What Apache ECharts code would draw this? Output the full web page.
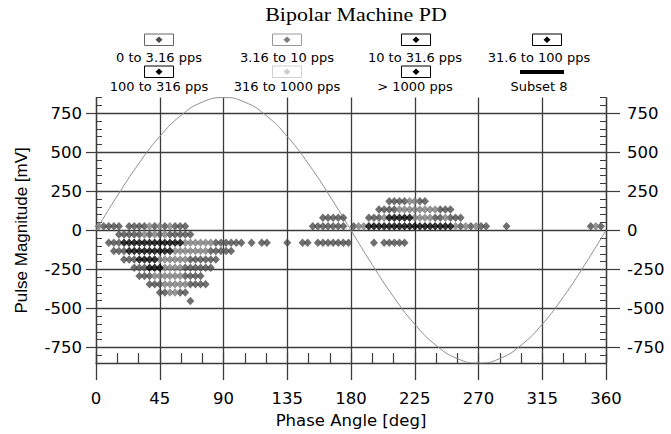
<!DOCTYPE html>
<html>
<head>
<meta charset="utf-8">
<script src="https://cdn.jsdelivr.net/npm/echarts@6/dist/echarts.min.js"></script>
<style>
html,body{margin:0;padding:0;background:#fff;}
#chart{width:671px;height:434px;}
</style>
</head>
<body>
<div id="chart"></div>
<script>
// Pulse-rate classes shown in the legend
const rateNames = ['0 to 3.16 pps', '3.16 to 10 pps', '10 to 31.6 pps', '31.6 to 100 pps',
                   '100 to 316 pps', '316 to 1000 pps', '> 1000 pps'];
const rateColors = ['#4b4b4b', '#7c7c7c', '#000000', '#000000', '#000000', '#cfcfcf', '#000000'];
const boxColors  = ['#666666', '#9a9a9a', '#000000', '#000000', '#000000', '#d0d0d0', '#000000'];
const lineName = 'Subset 8';
const chartTitle = 'Bipolar Machine PD';

const phaseTicks = [0, 45, 90, 135, 180, 225, 270, 315, 360];
const magnitudeTicks = [-750, -500, -250, 0, 250, 500, 750];

// [phase deg, magnitude mV] for each rate class
const rate0to3 = [
  [5.4,27],[9,27],[12.6,27],[16.2,27],[23.4,27],[27,27],[30.6,27],[34.2,27],[41.4,27],[48.6,27],[55.8,27],[59.4,27],[63,27],
  [153,27],[156.6,27],[160.2,27],[163.8,27],[167.4,27],[171,27],[174.6,27],[181.8,27],
  [257.4,27],[264.6,27],[271.8,27],[275.4,27],[289.8,27],[349.2,27],[356.4,27],
  [16.2,-27],[19.8,-27],[23.4,-27],[27,-27],[30.6,-27],[37.8,-27],[45,-27],[52.2,-27],[55.8,-27],[59.4,-27],[63,-27],[66.6,-27],
  [9,-80],[12.6,-80],[16.2,-80],[84.6,-80],[88.2,-80],[91.8,-80],[95.4,-80],[99,-80],[102.6,-80],[109.8,-80],[117,-80],[120.6,-80],
  [135,-80],[145.8,-80],[149.4,-80],[156.6,-80],[160.2,-80],[163.8,-80],[167.4,-80],[171,-80],[174.6,-80],[178.2,-80],
  [196.2,-80],[203.4,-80],[207,-80],[210.6,-80],[214.2,-80],[217.8,-80],
  [12.6,-133],[16.2,-133],[19.8,-133],[81,-133],[84.6,-133],[88.2,-133],[91.8,-133],[95.4,-133],
  [19.8,-186],[23.4,-186],[27,-186],[66.6,-186],[70.2,-186],[73.8,-186],[77.4,-186],[81,-186],[84.6,-186],
  [27,-239],[30.6,-239],[34.2,-239],[63,-239],[66.6,-239],[70.2,-239],[73.8,-239],[77.4,-239],[81,-239],
  [30.6,-292],[34.2,-292],[37.8,-292],[63,-292],[66.6,-292],[70.2,-292],[73.8,-292],
  [37.8,-345],[41.4,-345],[45,-345],[66.6,-345],[70.2,-345],[73.8,-345],[77.4,-345],
  [45,-398],[48.6,-398],[59.4,-398],[63,-398],
  [66.6,-452],
  [160.2,80],[163.8,80],[167.4,80],[171,80],[174.6,80],[192.6,80],[196.2,80],[199.8,80],
  [239.4,80],[243,80],[250.2,80],[253.8,80],[257.4,80],
  [199.8,133],[203.4,133],[207,133],[210.6,133],[243,133],[246.6,133],[250.2,133],
  [207,186],[210.6,186],[214.2,186],[217.8,186],[228.6,186],[232.2,186]
];
const rate3to10 = [
  [1.8,27],[37.8,27],[45,27],[52.2,27],[185.4,27],[189,27],[253.8,27],[261,27],[268.2,27],[352.8,27],
  [34.2,-27],[41.4,-27],[48.6,-27],
  [63,-80],[66.6,-80],[70.2,-80],[73.8,-80],[77.4,-80],[81,-80],
  [55.8,-133],[59.4,-133],[63,-133],[66.6,-133],[70.2,-133],[73.8,-133],[77.4,-133],
  [45,-186],[48.6,-186],[52.2,-186],[55.8,-186],[59.4,-186],[63,-186],
  [48.6,-239],[52.2,-239],[55.8,-239],[59.4,-239],
  [41.4,-292],[45,-292],[48.6,-292],[52.2,-292],[55.8,-292],[59.4,-292],
  [48.6,-345],[52.2,-345],[55.8,-345],[59.4,-345],[63,-345],
  [52.2,-398],[55.8,-398],
  [203.4,80],[225,80],[228.6,80],[232.2,80],[235.8,80],[246.6,80],
  [214.2,133],[217.8,133],[221.4,133],[225,133],[228.6,133],[232.2,133],[235.8,133],[239.4,133],
  [221.4,186],[225,186]
];
const rate10to31 = [
  [19.8,-80],[23.4,-80],[27,-80],[52.2,-80],[55.8,-80],[59.4,-80],
  [23.4,-133],[27,-133],[45,-133],[48.6,-133],[52.2,-133],
  [30.6,-186],[41.4,-186],
  [37.8,-239],[45,-239],
  [207,80],[217.8,80],[221.4,80],
  [192.6,27],[196.2,27],[232.2,27],[235.8,27],[239.4,27],[243,27],[246.6,27],[250.2,27]
];
const rate31to100 = [
  [30.6,-80],[34.2,-80],[48.6,-80],
  [30.6,-133],[41.4,-133],
  [34.2,-186],[37.8,-186],
  [41.4,-239],
  [210.6,80],[214.2,80],
  [199.8,27],[203.4,27],[225,27],[228.6,27]
];
const rate100to316 = [
  [37.8,-80],[41.4,-80],[45,-80],
  [34.2,-133],[37.8,-133],
  [207,27],[210.6,27],[214.2,27],[217.8,27],[221.4,27]
];
const rate316to1000 = [];
const rateAbove1000 = [];

// Supply voltage reference wave
const wavePhase = [0,15,30,45,60,75,90,105,120,135,150,165,180,195,210,225,240,255,270,285,300,315,330,345,360];
const waveVoltage = [0,220,425,601,736,821,850,821,736,601,425,220,0,-220,-425,-601,-736,-821,-850,-821,-736,-601,-425,-220,0];

const rateData = [rate0to3, rate3to10, rate10to31, rate31to100, rate100to316, rate316to1000, rateAbove1000];

const axisColor = '#3c3c3c';
const tickFont = 'DejaVu Sans';

const scatterSeries = rateNames.map((name, i) => ({
  name: name,
  type: 'scatter',
  xAxisIndex: 0,
  yAxisIndex: 0,
  symbol: 'diamond',
  symbolSize: [8, 8.5],
  itemStyle: { color: rateColors[i] },
  data: rateData[i],
  z: 3,
  silent: true
}));

const waveSeries = {
  name: lineName,
  type: 'line',
  xAxisIndex: 0,
  yAxisIndex: 0,
  data: wavePhase.map((p, i) => [p, waveVoltage[i]]),
  smooth: true,
  showSymbol: false,
  lineStyle: { color: '#8e8e8e', width: 1 },
  z: 2,
  silent: true
};

// Title and legend: a small framed marker above each label, four columns by two rows
const legendCenters = [159, 287, 416, 547];
const legendText = [159, 287, 415, 539];
const legendRows = [{ box: 34, text: 57.5 }, { box: 66, text: 86 }];
const legendFont = '13px "DejaVu Sans"';
const overlay = [{
  type: 'text', x: 356, y: 15, scaleX: 1.22,
  style: { text: chartTitle, font: '18px "Liberation Serif"', fill: '#000', align: 'center', verticalAlign: 'middle' }
}];
rateNames.forEach((name, i) => {
  const col = i % 4, row = Math.floor(i / 4);
  const cx = legendCenters[col];
  const top = legendRows[row].box;
  overlay.push({
    type: 'rect', shape: { x: cx - 14.5, y: top, width: 29, height: 11.5 },
    style: { fill: '#fff', stroke: boxColors[i], lineWidth: 1 }
  });
  overlay.push({
    type: 'polygon',
    shape: { points: [[cx, top + 2.5], [cx + 3.5, top + 5.75], [cx, top + 9], [cx - 3.5, top + 5.75]] },
    style: { fill: rateColors[i] }
  });
  overlay.push({
    type: 'text', x: legendText[col], y: legendRows[row].text,
    style: { text: name, font: legendFont, fill: '#000', align: 'center', verticalAlign: 'middle' }
  });
});
overlay.push({
  type: 'rect', shape: { x: 520, y: 70, width: 44, height: 4 }, style: { fill: '#000' }
});
overlay.push({
  type: 'text', x: legendText[3], y: legendRows[1].text,
  style: { text: lineName, font: legendFont, fill: '#000', align: 'center', verticalAlign: 'middle' }
});

const majorY = (position, withSplit, withName) => ({
  type: 'value',
  position: position,
  min: -850,
  max: 850,
  name: withName ? 'Pulse Magnitude [mV]' : '',
  nameLocation: 'middle',
  nameGap: 66,
  nameTextStyle: { fontFamily: 'Liberation Sans', fontSize: 17, color: '#000' },
  axisLine: { show: true, onZero: false, lineStyle: { color: axisColor, width: 1.3 } },
  axisTick: { show: true, inside: false, length: position === 'left' ? 10 : 14, customValues: magnitudeTicks,
              lineStyle: { color: axisColor, width: 1.2 } },
  axisLabel: { show: true, customValues: magnitudeTicks, margin: position === 'left' ? 14 : 21,
               fontFamily: tickFont, fontSize: 16.5, color: '#000' },
  splitLine: { show: withSplit, lineStyle: { color: axisColor, width: 1.3 } }
});
const minorY = (position) => ({
  type: 'value', position: position, min: -850, max: 850, interval: 50,
  axisLine: { show: false, onZero: false },
  axisTick: { show: true, inside: true, length: 6, lineStyle: { color: axisColor, width: 1 } },
  axisLabel: { show: false },
  splitLine: { show: false }
});

const chart = echarts.init(document.getElementById('chart'), null, { renderer: 'svg' });
chart.setOption({
  backgroundColor: '#fff',
  animation: false,
  grid: { left: 96, right: 65, top: 97.6, bottom: 69 },
  xAxis: [
    {
      type: 'value', min: 0, max: 360, interval: 45, position: 'bottom',
      name: 'Phase Angle [deg]', nameLocation: 'middle', nameGap: 40,
      nameTextStyle: { fontFamily: tickFont, fontSize: 16.5, color: '#000' },
      axisLine: { show: true, onZero: false, lineStyle: { color: axisColor, width: 1.3 } },
      axisTick: { show: true, inside: false, length: 17, lineStyle: { color: axisColor, width: 1.3 } },
      axisLabel: { margin: 27, fontFamily: tickFont, fontSize: 16.5, color: '#000', showMinLabel: true, showMaxLabel: true },
      splitLine: { show: true, lineStyle: { color: axisColor, width: 1.3 } }
    },
    {
      type: 'value', min: 0, max: 360, interval: 15, position: 'bottom',
      axisLine: { show: false, onZero: false },
      axisTick: { show: true, inside: true, length: 10, lineStyle: { color: axisColor, width: 1.2 } },
      axisLabel: { show: false },
      splitLine: { show: false }
    }
  ],
  yAxis: [majorY('left', true, true), majorY('right', false, false), minorY('left'), minorY('right')],
  graphic: overlay,
  series: [waveSeries].concat(scatterSeries)
});
</script>
</body>
</html>
